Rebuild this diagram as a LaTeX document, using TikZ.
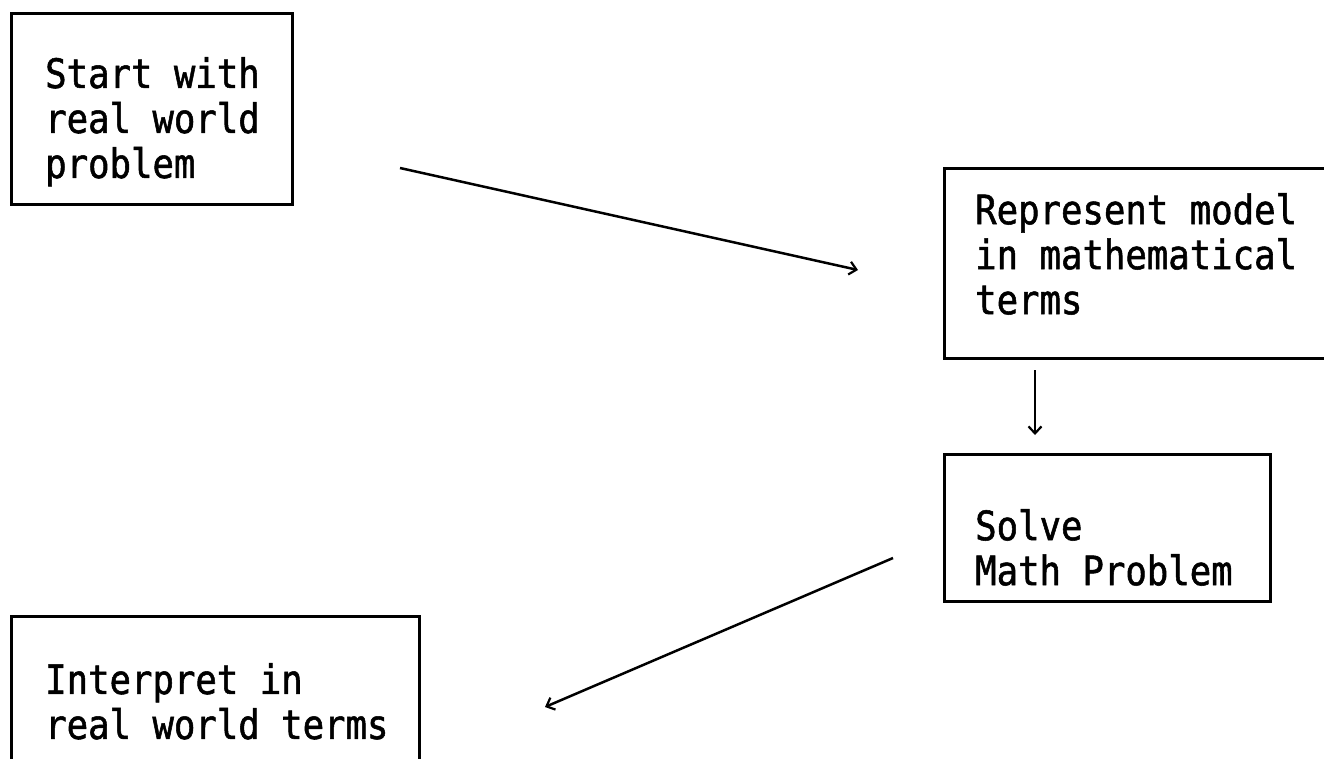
\documentclass[tikz,border=0pt]{standalone}
\usepackage{fontspec}
\setmonofont[FakeStretch=0.88,FakeBold=1.3]{DejaVu Sans Mono}
\usetikzlibrary{arrows.meta,calc}
\tikzset{
  box/.style={draw=black, line width=3pt, anchor=north west, inner sep=0pt},
  txt/.style={anchor=north west, inner sep=0pt, align=left,
    font=\ttfamily\fontsize{40.5}{45}\selectfont},
  conn/.style={line width=2.5pt, -{Straight Barb[length=7pt,width=13pt,line width=2.2pt]}}
}
\begin{document}
\begin{tikzpicture}[x=1pt,y=-1pt]
\useasboundingbox (0,0) rectangle (1324,759);
% boxes
\node[box, minimum width=281pt, minimum height=191pt] (b1) at (10,12) {};
\node[box, minimum width=400pt, minimum height=190pt] (b2) at (943,167) {};
\node[box, minimum width=326pt, minimum height=147pt] (b3) at (943,453) {};
\node[box, minimum width=408pt, minimum height=170pt] (b4) at (10,615) {};
% texts
\node[txt] (t1) at (45,57) {Start with\\real world\\problem};
\node[txt] (t2) at (975,193) {Represent model\\in mathematical\\terms};
\node[txt] (t3) at (975,509) {Solve\\Math Problem};
\node[txt] (t4) at (45,663) {Interpret in\\real world terms};
% connector ends
\coordinate (a1s) at (400,168);
\coordinate (a1e) at (858,270);
\coordinate (a2s) at (1035,370);
\coordinate (a2e) at (1035,435);
\coordinate (a3s) at (893,558);
\coordinate (a3e) at (545,707);
\draw[conn] (a1s) -- (a1e);
\draw[conn] (a2s) -- (a2e);
\draw[conn] (a3s) -- (a3e);
\end{tikzpicture}
\end{document}
